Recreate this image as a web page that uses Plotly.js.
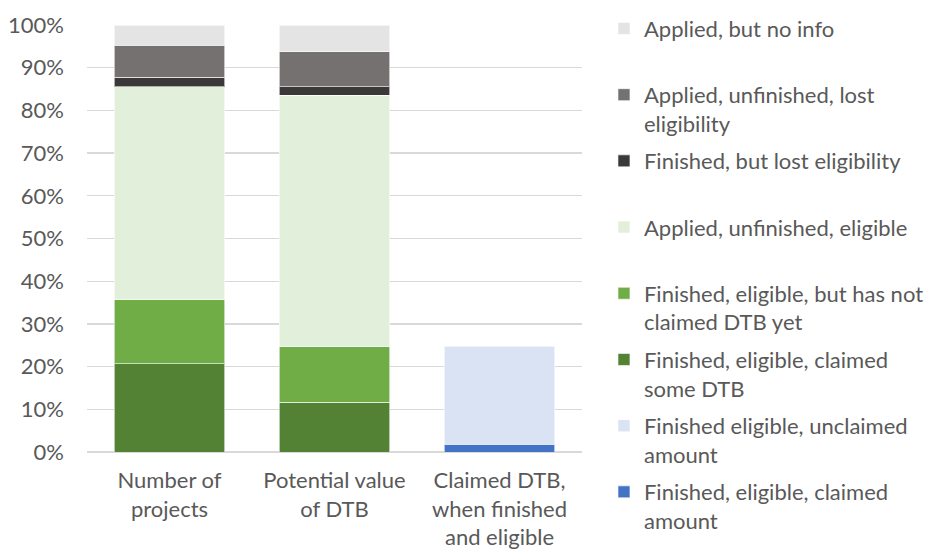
<!DOCTYPE html>
<html>
<head>
<meta charset="utf-8">
<script src="https://cdn.plot.ly/plotly-3.0.1.min.js"></script>
<style>html,body{margin:0;padding:0;background:#fff;}#chart{width:933px;height:552px;}</style>
</head>
<body>
<div id="chart"></div>
<script>
// Categories (x axis)
var categories = ["Number of<br>projects", "Potential value<br>of DTB", "Claimed DTB,<br>when finished<br>and eligible"];

// Series values in percent (bottom of stack first)
var claimedAmount       = [null, null, 1.8];
var unclaimedAmount     = [null, null, 23.0];
var claimedSomeDTB      = [20.7, 11.7, null];
var notClaimedYet       = [15.0, 13.0, null];
var unfinishedEligible  = [49.8, 58.8, null];
var finishedLost        = [2.3, 2.0, null];
var unfinishedLost      = [7.5, 8.2, null];
var noInfo              = [4.7, 6.3, null];

// Legend labels
var seriesNames = [
  "Finished, eligible, claimed<br>amount",
  "Finished eligible, unclaimed<br>amount",
  "Finished, eligible, claimed<br>some DTB",
  "Finished, eligible, but has not<br>claimed DTB yet",
  "Applied, unfinished, eligible<br>\u00a0",
  "Finished, but lost eligibility<br>\u00a0",
  "Applied, unfinished, lost<br>eligibility",
  "Applied, but no info<br>\u00a0"
];
var seriesValues = [claimedAmount, unclaimedAmount, claimedSomeDTB, notClaimedYet, unfinishedEligible, finishedLost, unfinishedLost, noInfo];
var seriesColors = ["#4472c4", "#dae3f3", "#548235", "#70ad47", "#e2efda", "#3a3838", "#767171", "#e4e4e4"];

var FONT = "Lato, 'Open Sans', sans-serif";
var traces = seriesValues.map(function (vals, i) {
  return {
    type: "bar",
    x: categories,
    y: vals,
    name: seriesNames[i],
    legendgroup: "g" + i,
    legendrank: 100 - i,
    marker: { color: seriesColors[i], line: { color: "rgba(255,255,255,0.6)", width: 1 } },
    hoverinfo: "skip"
  };
});

var layout = {
  width: 933,
  height: 552,
  barmode: "stack",
  bargap: 0.333,
  margin: { l: 87, r: 351, t: 25, b: 100, pad: 0, autoexpand: false },
  paper_bgcolor: "#ffffff",
  plot_bgcolor: "#ffffff",
  font: { family: FONT, size: 22, color: "#595959" },
  showlegend: true,
  legend: {
    x: 1.0444, xanchor: "left",
    y: 1.0406, yanchor: "top",
    traceorder: "grouped",
    tracegroupgap: 6,
    valign: "top",
    maxheight: 600,
    font: { family: FONT, size: 22, color: "#595959" },
    bgcolor: "rgba(0,0,0,0)"
  },
  xaxis: {
    type: "category",
    showgrid: false,
    showline: false,
    zeroline: false,
    ticks: "",
    ticklabelstandoff: 13,
    tickfont: { family: FONT, size: 22, color: "#595959" }
  },
  yaxis: {
    range: [0, 100],
    dtick: 10,
    ticksuffix: "%",
    showgrid: true,
    gridcolor: "#d9d9d9",
    gridwidth: 1.3,
    zeroline: true,
    zerolinecolor: "#d9d9d9",
    zerolinewidth: 1.5,
    showline: false,
    ticks: "",
    ticklabelstandoff: 22,
    tickfont: { family: FONT, size: 22, color: "#595959" }
  }
};

Plotly.newPlot("chart", traces, layout, { staticPlot: true, displayModeBar: false });
</script>
</body>
</html>
